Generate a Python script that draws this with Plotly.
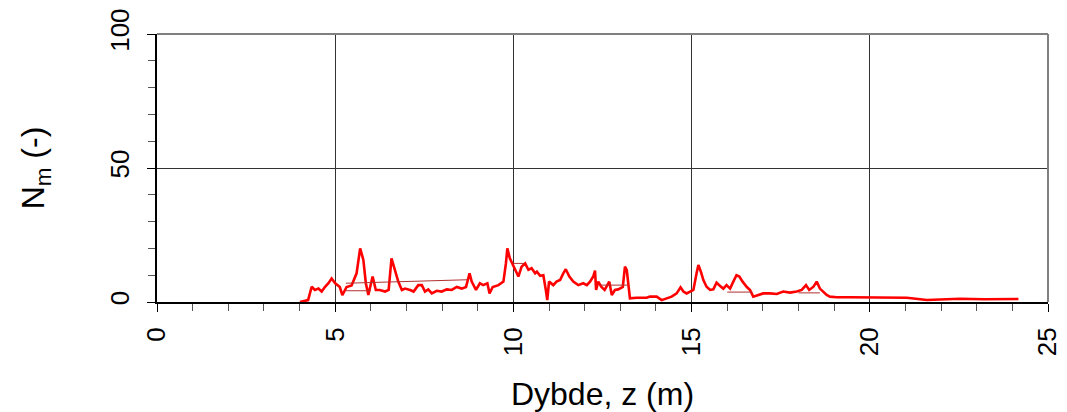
import plotly.graph_objects as go

# Depth profile (z in m) and N_m values
depth = [4.01, 4.24, 4.34, 4.43, 4.53, 4.62, 4.71, 4.81, 4.90, 5.00, 5.13, 5.20, 5.32, 5.46,
         5.60, 5.70, 5.79, 5.86, 5.93, 6.05, 6.14, 6.25, 6.40, 6.50, 6.58, 6.68, 6.77, 6.87,
         6.96, 7.10, 7.20, 7.33, 7.43, 7.52, 7.61, 7.71, 7.85, 7.99, 8.13, 8.27, 8.41, 8.55,
         8.67, 8.77, 8.83, 8.95, 9.06, 9.15, 9.27, 9.33, 9.42, 9.58, 9.72, 9.79, 9.83, 9.90,
         10.04, 10.14, 10.23, 10.33, 10.42, 10.51, 10.61, 10.66, 10.75, 10.84, 10.91, 10.95,
         11.00, 11.12, 11.21, 11.31, 11.40, 11.47, 11.57, 11.68, 11.82, 11.96, 12.06, 12.15,
         12.24, 12.29, 12.32, 12.38, 12.47, 12.56, 12.69, 12.76, 12.85, 12.94, 13.07, 13.13,
         13.18, 13.23, 13.27, 13.46, 13.74, 13.83, 14.02, 14.16, 14.30, 14.44, 14.58, 14.69,
         14.77, 14.86, 14.96, 15.05, 15.14, 15.19, 15.26, 15.33, 15.42, 15.52, 15.61, 15.70,
         15.80, 15.89, 15.98, 16.08, 16.17, 16.26, 16.34, 16.43, 16.55, 16.64, 16.73, 16.87,
         17.01, 17.20, 17.39, 17.57, 17.76, 17.95, 18.09, 18.21, 18.30, 18.42, 18.51, 18.60,
         18.70, 18.79, 18.88, 19.07, 19.44, 19.82, 20.00, 20.28, 20.57, 21.04, 21.60, 22.06,
         22.53, 23.20, 23.65, 24.17]
nm = [0.0, 0.7, 5.7, 4.5, 5.0, 3.9, 5.6, 7.0, 8.8, 7.0, 5.6, 2.6, 5.6, 6.2,
      10.7, 20.0, 15.7, 7.0, 2.6, 9.5, 4.5, 4.5, 3.9, 4.5, 16.3, 12.0, 7.6, 4.5,
      5.0, 4.5, 3.9, 6.3, 6.3, 3.9, 4.7, 3.2, 4.2, 3.9, 4.7, 4.5, 5.6, 5.0,
      5.6, 10.7, 7.6, 4.5, 7.0, 6.3, 7.0, 3.2, 5.6, 6.3, 7.6, 14.4, 20.0, 16.3,
      12.0, 9.5, 13.2, 14.4, 12.0, 12.6, 10.7, 11.3, 9.8, 10.0, 4.5, 0.7,
      7.6, 6.3, 7.6, 8.2, 10.7, 12.2, 9.5, 7.6, 6.3, 7.0, 6.3, 7.6,
      9.5, 11.7, 4.5, 7.6, 5.6, 4.5, 7.6, 2.6, 4.5, 4.7, 5.6, 13.2,
      12.0, 5.6, 1.4, 1.6, 1.6, 2.0, 2.0, 0.7, 1.3, 2.0, 3.2, 5.5,
      3.9, 3.2, 3.9, 4.5, 10.7, 13.8, 11.3, 8.2, 5.7, 4.5, 4.7, 7.2,
      6.0, 5.0, 6.3, 5.0, 7.6, 10.0, 9.5, 7.6, 5.6, 4.5, 2.0, 2.6,
      3.2, 3.2, 3.0, 3.9, 3.5, 3.9, 4.5, 6.3, 4.5, 5.7, 7.6, 5.0,
      3.9, 2.6, 2.0, 1.8, 1.8, 1.8, 1.6, 1.8, 1.6, 1.6, 0.75, 1.0,
      1.2, 1.0, 1.1, 1.1]

# Layer mean values drawn as thin segments (None breaks the line)
layer_z = [5.3, 8.7, None, 5.3, 6.0, None, 10.0, 10.3, None,
           12.45, 13.2, None, 16.0, 16.7, None, 18.0, 18.6]
layer_nm = [7.0, 8.3, None, 4.2, 4.2, None, 14.4, 14.4, None,
            6.3, 6.3, None, 3.7, 3.7, None, 3.4, 3.4]

x_ticks = [0, 5, 10, 15, 20, 25]
y_ticks = [0, 50, 100]

FONT = "Liberation Sans, Arial, sans-serif"

fig = go.Figure()
fig.add_trace(go.Scatter(x=depth, y=nm, mode="lines",
                         line=dict(color="#ff0000", width=2.6), showlegend=False))
fig.add_trace(go.Scatter(x=layer_z, y=layer_nm, mode="lines",
                         line=dict(color="#b03030", width=1), showlegend=False))

fig.update_layout(
    width=1067, height=412,
    margin=dict(l=157, r=19, t=34, b=110, autoexpand=False),
    paper_bgcolor="white", plot_bgcolor="white",
    font=dict(family=FONT, size=26, color="black"),
    showlegend=False,
)

fig.update_xaxes(
    range=[0, 25], tickvals=x_ticks, ticktext=[str(v) for v in x_ticks],
    tickangle=-90, tickfont=dict(size=26), ticklabelstandoff=5, automargin=False,
    showgrid=True, gridcolor="#333333", gridwidth=1,
    zeroline=False, showline=True, linecolor="black", linewidth=2,
    ticks="outside", ticklen=8, tickwidth=1, tickcolor="black",
    minor=dict(dtick=1, ticks="outside", ticklen=7, tickcolor="#555555", showgrid=False),
    title=dict(text="Dybde, z (m)", font=dict(size=32), standoff=27),
)
fig.update_yaxes(
    range=[0, 100], tickvals=y_ticks, ticktext=[str(v) for v in y_ticks],
    tickangle=-90, tickfont=dict(size=26), ticklabelstandoff=8, automargin=False,
    showgrid=True, gridcolor="#333333", gridwidth=1,
    zeroline=False, showline=True, linecolor="black", linewidth=2,
    ticks="outside", ticklen=8, tickwidth=1, tickcolor="black",
    minor=dict(dtick=10, ticks="outside", ticklen=7, tickcolor="#555555", showgrid=False),
    title=dict(text="N<sub>m</sub> (-)", font=dict(size=32), standoff=50),
)

# Top and right frame in grey
fig.add_shape(type="line", xref="paper", yref="paper", x0=0, x1=1, y0=1, y1=1,
              line=dict(color="#808080", width=2))
fig.add_shape(type="line", xref="paper", yref="paper", x0=1, x1=1, y0=0, y1=1,
              line=dict(color="#808080", width=2))

fig.write_html("out.html")
